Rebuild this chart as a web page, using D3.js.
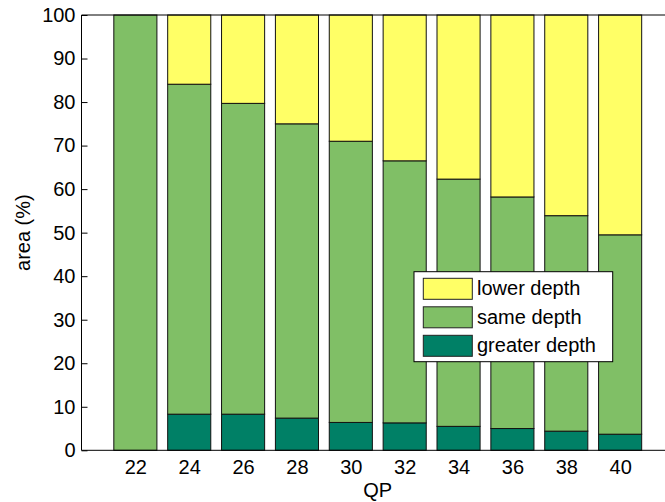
<!DOCTYPE html>
<html><head><meta charset="utf-8">
<script src="https://cdn.jsdelivr.net/npm/d3@7"></script>
<style>html,body{margin:0;padding:0;background:#fff;} svg{display:block;font-family:"Liberation Sans",Arial,sans-serif;}</style>
</head><body>
<script>
const categories = [22, 24, 26, 28, 30, 32, 34, 36, 38, 40];
const greaterDepth = [0, 8.3, 8.3, 7.4, 6.4, 6.3, 5.5, 5.0, 4.4, 3.7];
const sameDepth = [100, 75.8, 71.4, 67.6, 64.6, 60.2, 56.8, 53.2, 49.5, 45.8];
const lowerDepth = [0, 15.9, 20.3, 25.0, 29.0, 33.5, 37.7, 41.8, 46.1, 50.5];
const seriesNames = ["greater depth", "same depth", "lower depth"];
const seriesColors = ["#008066", "#80bf66", "#ffff66"];
const yTicks = [0, 10, 20, 30, 40, 50, 60, 70, 80, 90, 100];

(function () {
const W = 665, H = 502, FS = 20;
const svg = d3.select("body").append("svg").attr("width", W).attr("height", H);
const mLeft = 81.5, mRight = 674, mTop = 15, mBottom = 450.3;
const x = d3.scaleLinear().domain([20, 42]).range([mLeft, mRight]);
const y = d3.scaleLinear().domain([0, 100]).range([mBottom, mTop]);
const bw = (x(2) - x(0)) * 0.8;

const rows = categories.map((c, i) => ({ qp: c, "greater depth": greaterDepth[i], "same depth": sameDepth[i], "lower depth": lowerDepth[i] }));
const stack = d3.stack().keys(seriesNames)(rows);

stack.forEach((s, k) => {
  svg.append("g").selectAll("rect").data(s).join("rect")
    .attr("x", d => x(d.data.qp) - bw / 2)
    .attr("width", bw)
    .attr("y", d => y(d[1]))
    .attr("height", d => Math.max(0, y(d[0]) - y(d[1])))
    .attr("fill", seriesColors[k])
    .attr("stroke", d => (d[1] - d[0]) > 0 ? "#111" : "none")
    .attr("stroke-width", 1);
});

svg.append("path").attr("d", `M${mRight},${mTop}H${mLeft}V${mBottom}H${mRight}`).attr("fill", "none").attr("stroke", "#000").attr("stroke-width", 1);

const yAxis = d3.axisLeft(y).tickValues(yTicks).tickSize(-6).tickPadding(6);
const gy = svg.append("g").attr("transform", `translate(${mLeft},0)`).call(yAxis);
gy.select(".domain").remove();
gy.selectAll("line").attr("stroke", "#000");
gy.selectAll("text").attr("font-size", FS).attr("fill", "#000").attr("font-family", "Liberation Sans, Arial, sans-serif");

const xAxis = d3.axisBottom(x).tickValues(categories).tickSize(0).tickPadding(10);
const gx = svg.append("g").attr("transform", `translate(0,${mBottom})`).call(xAxis);
gx.select(".domain").remove();
gx.selectAll("text").attr("font-size", FS).attr("fill", "#000").attr("font-family", "Liberation Sans, Arial, sans-serif");

svg.append("text").attr("x", (mLeft + mRight) / 2).attr("y", 497).attr("text-anchor", "middle")
  .attr("font-size", FS).text("QP");
svg.append("text").attr("transform", `translate(30,${(mTop + mBottom) / 2}) rotate(-90)`).attr("text-anchor", "middle")
  .attr("font-size", FS).text("area (%)");

const lg = svg.append("g");
lg.append("rect").attr("x", 414).attr("y", 271.7).attr("width", 198.7).attr("height", 90)
  .attr("fill", "#fff").attr("stroke", "#000").attr("stroke-width", 1);
const legendOrder = [2, 1, 0];
legendOrder.forEach((k, i) => {
  const yy = 278.3 + i * 28.5;
  lg.append("rect").attr("x", 423.3).attr("y", yy).attr("width", 49).attr("height", 21)
    .attr("fill", seriesColors[k]).attr("stroke", "#222").attr("stroke-width", 1);
  lg.append("text").attr("x", 477).attr("y", yy + 17).attr("font-size", FS).text(seriesNames[k]);
});
})();
</script>
</body></html>
